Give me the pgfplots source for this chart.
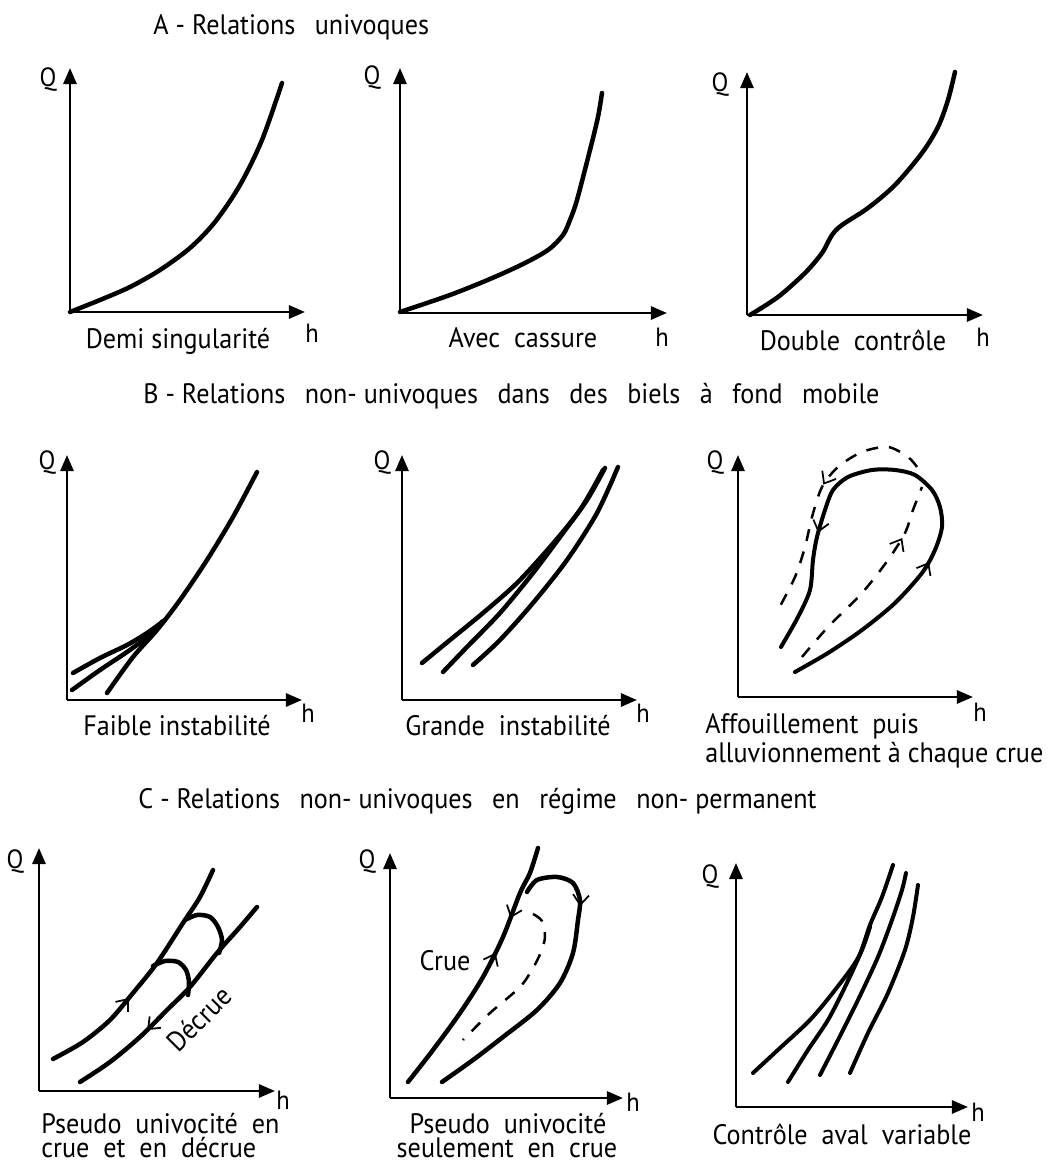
\documentclass[border=0pt]{standalone}
\usepackage{fontspec}
\setmainfont{PT Sans}[FakeStretch=0.93]
\usepackage{pgfplots}
\pgfplotsset{compat=1.18}
\usetikzlibrary{arrows.meta,decorations.markings}

\pgfplotsset{
 panel/.style n args={4}{
   x=0.2mm, y=0.2mm, anchor=south west,
   xmin=#1, xmax=#2, ymin=#3, ymax=#4,
   at={(#1*0.2mm,#3*0.2mm)},
   axis lines=left, ticks=none, enlargelimits=false, clip=false,
   axis line style={line width=0.55mm, -{Triangle[length=3.2mm,width=2.6mm]}},
 },
 curve/.style={smooth, line width=0.9mm, black, line cap=round, mark=none},
 dcurve/.style={smooth, line width=0.5mm, black, dash pattern=on 2.4mm off 2.2mm, mark=none},
}
\tikzset{
  barb/.tip={Straight Barb[length=2mm,width=3.2mm,line width=0.35mm]},
  midarrow/.style={postaction={decorate}, decoration={markings, mark=at position #1 with {\arrow{barb}}}},
}
\newcommand{\g}{\hspace{3.9mm}}
% axis letters (centre)
\newcommand{\A}[3]{\node[font=\fontsize{15pt}{18pt}\selectfont] at (axis cs:#1,-#2) {#3};}
% centred text on baseline
\newcommand{\T}[3]{\node[anchor=base] at (axis cs:#1,-#2) {#3};}
% left-aligned text on baseline
\newcommand{\TL}[3]{\node[anchor=base west] at (axis cs:#1,-#2) {#3};}

\begin{document}
\begin{tikzpicture}[every node/.style={font=\fontsize{16pt}{19pt}\selectfont, inner sep=0pt}]
\useasboundingbox (0,0) rectangle (211mm,-233.4mm);

% ---------------- A1
\begin{axis}[panel={70}{305}{-312}{-68}]
\addplot[curve] coordinates {(70,-312) (100,-300) (130,-287) (160,-270) (190,-248) (215,-222) (240,-185) (262,-140) (282,-83)};
\TL{153}{34}{A - Relations\g univoques}
\A{48}{80}{Q}
\A{312}{333}{h}
\T{178}{348}{Demi singularité}
\end{axis}

% ---------------- A2
\begin{axis}[panel={400}{667}{-313}{-68}]
\addplot[curve] coordinates {(400,-312) (450,-295) (490,-279) (523,-264) (548,-250) (563,-235) (570,-220) (577,-200) (590,-150) (598,-117) (602,-93)};
\A{372}{78}{Q}
\A{662}{337}{h}
\T{523}{347}{Avec\ \ cassure}
\end{axis}

% ---------------- A3
\begin{axis}[panel={747}{983}{-315}{-72}]
\addplot[curve] coordinates {(750,-315) (778,-297) (805,-273) (822,-253) (832,-235) (842,-225) (868,-208) (895,-185) (922,-153) (938,-127) (948,-100) (955,-72)};
\A{720}{85}{Q}
\A{983}{337}{h}
\T{853}{350}{Double\ \ contrôle}
\end{axis}

% ---------------- B1
\begin{axis}[panel={67}{302}{-700}{-455}]
\addplot[curve] coordinates {(107,-693) (133,-657) (157,-630) (180,-600) (207,-560) (233,-517) (257,-472)};
\addplot[curve] coordinates {(73,-673) (100,-658) (127,-645) (147,-633) (165,-620)};
\addplot[curve] coordinates {(72,-690) (100,-670) (127,-652) (147,-637) (163,-621)};
\TL{143}{403}{B - Relations\g non-\ univoques\g dans\g des\g biels\g à\g fond\g mobile}
\A{47}{463}{Q}
\A{308}{713}{h}
\T{177}{735}{Faible instabilité}
\end{axis}

% ---------------- B2
\begin{axis}[panel={402}{637}{-700}{-455}]
\addplot[curve] coordinates {(422,-663) (450,-640) (483,-613) (517,-583) (550,-547) (580,-510) (603,-470)};
\addplot[curve] coordinates {(443,-672) (467,-647) (500,-613) (533,-573) (563,-533) (587,-500) (605,-468)};
\addplot[curve] coordinates {(473,-665) (500,-640) (533,-603) (567,-560) (597,-513) (618,-467)};
\A{382}{463}{Q}
\A{643}{713}{h}
\T{508}{735}{Grande\ \ instabilité}
\end{axis}

% ---------------- B3
\begin{axis}[panel={738}{973}{-697}{-455}]
\addplot[curve, line width=0.8mm, postaction={decorate}, decoration={markings,
   mark=at position 0.33 with {\arrow{barb}}, mark=at position 0.77 with {\arrow{barb}}}]
 coordinates {(795,-672) (828,-653) (862,-630) (895,-603) (922,-573) (935,-550) (942,-527) (940,-507) (932,-490) (915,-475) (895,-470) (872,-470) (848,-477) (833,-490) (825,-510) (817,-537) (813,-560) (810,-590) (798,-617) (781,-647)};
\addplot[dcurve, midarrow=0.46] coordinates {(917,-467) (908,-457) (888,-447) (862,-452) (838,-467) (822,-487) (812,-517) (805,-547) (795,-577) (778,-610)};
\addplot[dcurve, midarrow=0.74] coordinates {(802,-657) (828,-627) (862,-593) (888,-560) (905,-533) (913,-510) (922,-487)};
\A{715}{463}{Q}
\A{980}{712}{h}
\TL{705}{733}{Affouillement\ \ puis}
\TL{705}{762}{alluvionnement à chaque crue}
\end{axis}

% ---------------- C1
\begin{axis}[panel={39}{275}{-1091}{-848}]
\addplot[curve, midarrow=0.39] coordinates {(53,-1059) (83,-1042) (110,-1020) (133,-993) (157,-963) (183,-923) (200,-897) (213,-870)};
\addplot[curve, midarrow=0.66] coordinates {(257,-907) (240,-927) (217,-953) (190,-987) (167,-1010) (140,-1037) (110,-1062) (80,-1082)};
\addplot[curve] coordinates {(153,-966) (165,-961) (178,-962) (186,-970) (189,-982) (188,-995)};
\addplot[curve] coordinates {(185,-920) (197,-915) (210,-917) (218,-927) (222,-940) (219,-953)};
\TL{138}{809}{C - Relations\g non-\ univoques\g en\g régime\g non-\ permanent}
\A{15}{862}{Q}
\A{283}{1100}{h}
\node[rotate=45] at (axis cs:199,-1019) {Décrue};
\TL{41}{1134}{Pseudo\ \ univocité\ \ en}
\TL{41}{1158}{crue\ \ et\ \ en\ \ décrue}
\end{axis}

% ---------------- C2
\begin{axis}[panel={390}{623}{-1098}{-853}]
\addplot[curve, postaction={decorate}, decoration={markings,
   mark=at position 0.58 with {\arrow{barb}}, mark=at position 0.72 with {\arrowreversed{barb}}}]
 coordinates {(408,-1082) (433,-1050) (460,-1013) (483,-977) (503,-937) (520,-893) (530,-873) (538,-848)};
\addplot[curve, midarrow=0.25] coordinates {(527,-892) (537,-880) (557,-877) (573,-883) (580,-900) (578,-920) (573,-953) (560,-983) (537,-1010) (503,-1037) (473,-1060) (442,-1082)};
\addplot[dcurve] coordinates {(533,-914) (542,-921) (545,-937) (541,-952) (533,-968) (520,-987) (490,-1013) (463,-1040)};
\A{367}{862}{Q}
\A{633}{1102}{h}
\T{445}{971}{Crue}
\T{508}{1134}{Pseudo\ \ univocité}
\T{507}{1158}{seulement\ \ en\ \ crue}
\end{axis}

% ---------------- C3
\begin{axis}[panel={736}{968}{-1107}{-863}]
\addplot[curve, line width=0.8mm] coordinates {(753,-1073) (780,-1048) (810,-1020) (835,-990) (858,-958) (870,-925) (882,-897) (893,-865)};
\addplot[curve, line width=0.8mm] coordinates {(788,-1082) (808,-1050) (828,-1020) (845,-987) (862,-950) (870,-927)};
\addplot[curve, line width=0.8mm] coordinates {(820,-1075) (838,-1040) (858,-1000) (878,-957) (892,-920) (902,-890) (906,-873)};
\addplot[curve, line width=0.8mm] coordinates {(850,-1073) (868,-1033) (888,-993) (905,-950) (913,-917) (918,-885)};
\A{710}{877}{Q}
\A{978}{1112}{h}
\T{842}{1145}{Contrôle\ \ aval\ \ variable}
\end{axis}
\end{tikzpicture}
\end{document}
